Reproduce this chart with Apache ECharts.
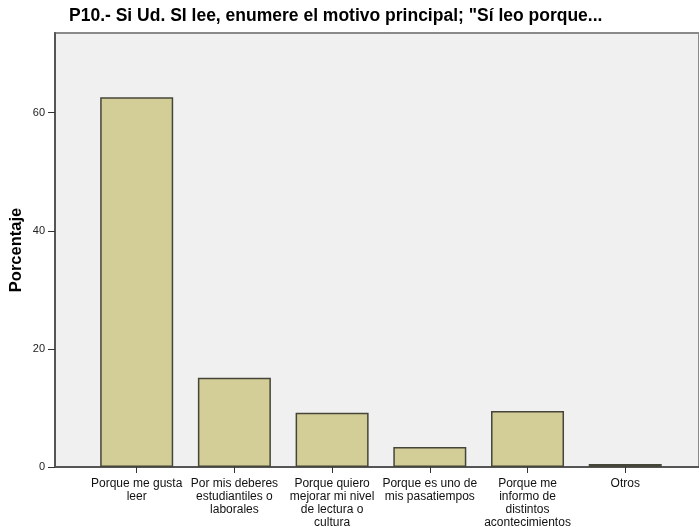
<!DOCTYPE html>
<html>
<head>
<meta charset="utf-8">
<script src="https://cdn.jsdelivr.net/npm/echarts@6/dist/echarts.min.js"></script>
<style>
  html, body { margin: 0; padding: 0; background: #ffffff; }
  #chart { width: 699px; height: 527px; }
</style>
</head>
<body>
<div id="chart"></div>
<script>
// Motivos de lectura (porcentaje)
const categories = [
  'Porque me gusta\nleer',
  'Por mis deberes\nestudiantiles o\nlaborales',
  'Porque quiero\nmejorar mi nivel\nde lectura o\ncultura',
  'Porque es uno de\nmis pasatiempos',
  'Porque me\ninformo de\ndistintos\nacontecimientos',
  'Otros'
]
const percentages = [62.6, 15.1, 9.2, 3.4, 9.5, 0.5]
const yTicks = [0, 20, 40, 60]
const xTicks = categories.map((_, i) => i)

const chart = echarts.init(document.getElementById('chart'))

chart.setOption({
  animation: false,
  textStyle: { fontFamily: 'Liberation Sans, Arial, sans-serif' },
  title: {
    text: 'P10.- Si Ud. SI lee, enumere el motivo principal; "Sí leo porque...',
    left: 69,
    top: 7,
    padding: 0,
    textStyle: { fontSize: 17.5, fontWeight: 'bold', color: '#000' }
  },
  grid: {
    left: 55,
    right: 0,
    top: 33,
    bottom: 60,
    outerBoundsMode: 'none',
    show: true,
    backgroundColor: '#f0f0f0',
    borderColor: '#8a8a8a',
    borderWidth: 2
  },
  xAxis: {
    type: 'value',
    min: -0.836,
    max: 5.755,
    splitLine: { show: false },
    axisLine: { show: true, onZero: false, lineStyle: { color: '#555', width: 2 } },
    axisTick: { show: true, length: 6, customValues: xTicks, lineStyle: { color: '#333' } },
    axisLabel: {
      customValues: xTicks,
      formatter: (v) => categories[Math.round(v)] || '',
      fontSize: 12,
      lineHeight: 13,
      color: '#111',
      margin: 10,
      align: 'center'
    }
  },
  yAxis: {
    type: 'value',
    min: 0,
    max: 73.5,
    name: 'Porcentaje',
    nameLocation: 'middle',
    nameGap: 30,
    nameMoveOverlap: false,
    nameTextStyle: { fontSize: 16.5, fontWeight: 'bold', color: '#000' },
    splitLine: { show: false },
    axisLine: { show: true, onZero: false, lineStyle: { color: '#555', width: 2 } },
    axisTick: { show: true, length: 7, customValues: yTicks, lineStyle: { color: '#333' } },
    axisLabel: { customValues: yTicks, fontSize: 11, color: '#222', margin: 10 }
  },
  series: [{
    type: 'bar',
    barWidth: 73,
    data: percentages.map((v, i) => [i, v]),
    itemStyle: { color: '#d3ce97', borderColor: '#45453a', borderWidth: 1.5 }
  }]
})
</script>
</body>
</html>
